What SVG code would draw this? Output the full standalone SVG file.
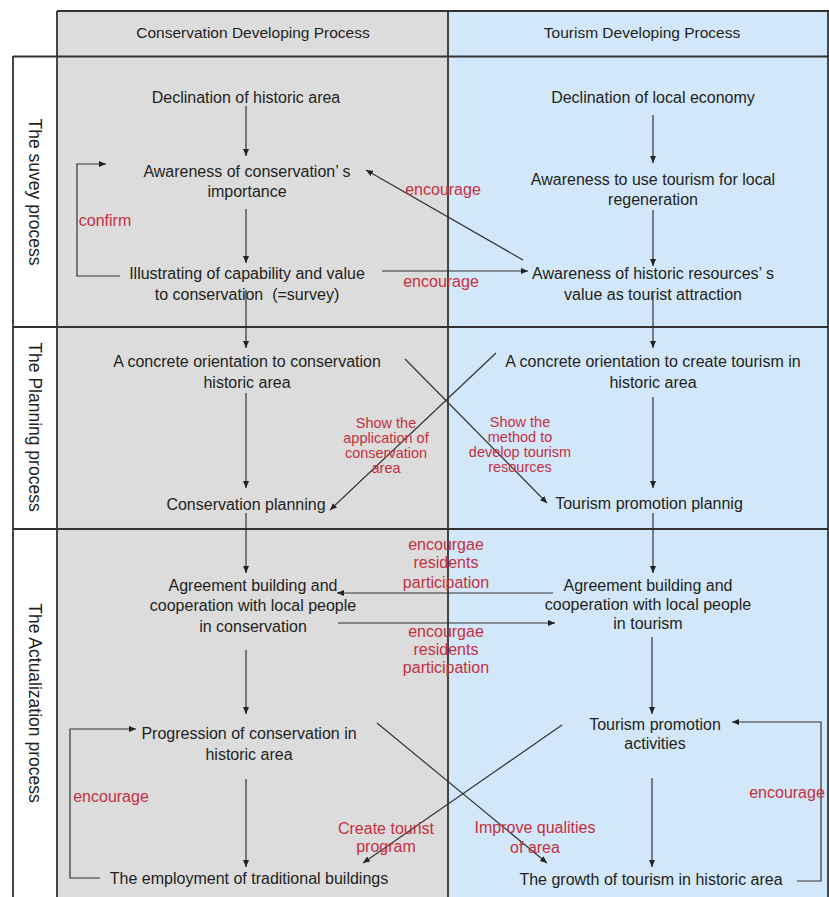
<svg xmlns="http://www.w3.org/2000/svg" width="829" height="897" viewBox="0 0 829 897">
<style>
.t{font-family:"Liberation Sans",Arial,sans-serif;font-size:16px;fill:#231f20;text-anchor:middle}
.r{font-family:"Liberation Sans",Arial,sans-serif;font-size:16px;fill:#c4303e;text-anchor:middle}
.s{font-family:"Liberation Sans",Arial,sans-serif;font-size:14.5px;fill:#c4303e;text-anchor:middle}
.h{font-family:"Liberation Sans",Arial,sans-serif;font-size:15.5px;fill:#231f20;text-anchor:middle}
.v{font-family:"Liberation Sans",Arial,sans-serif;font-size:17.5px;fill:#231f20;text-anchor:middle}
.f{stroke:#333;stroke-width:1.8;fill:none}
.c{stroke:#333;stroke-width:1.2;fill:none}
.a{marker-end:url(#ar)}
</style>
<defs>
<marker id="ar" markerWidth="8" markerHeight="6" refX="7" refY="3" orient="auto" markerUnits="userSpaceOnUse">
<path d="M0,0 L7,3 L0,6 z" fill="#222"/>
</marker>
</defs>
<rect width="829" height="897" fill="#fff"/>
<g id="frame">
<rect x="57" y="11" width="391" height="886" fill="#dcdcdc"/>
<rect x="448" y="11" width="381" height="886" fill="#d2e7f9"/>
<path class="f" d="M57,11 H829 M13,56.5 H829 M13,327 H829 M13,529 H829 M13,56 V897 M57,11 V897 M448,11 V897 M828,11 V897"/>
</g>
<g id="headers">
<text class="h" x="253" y="38">Conservation Developing Process</text>
<text class="h" x="642" y="38">Tourism Developing Process</text>
</g>
<g id="rowlabels">
<text class="v" transform="translate(35,192) rotate(90)" y="6">The suvey process</text>
<text class="v" transform="translate(35,427) rotate(90)" y="6">The Planning process</text>
<text class="v" transform="translate(35,703) rotate(90)" y="6">The Actualization process</text>
</g>
<g id="n1"><text class="t" x="246" y="103">Declination of historic area</text></g>
<g id="n2"><text class="t" x="247" y="177">Awareness of conservation’ s</text><text class="t" x="247" y="197">importance</text></g>
<g id="n3"><text class="t" x="247" y="279">Illustrating of capability and value</text><text class="t" x="247" y="300">to conservation&#160; (=survey)</text></g>
<g id="n4"><text class="t" x="247" y="367">A concrete orientation to conservation</text><text class="t" x="247" y="388">historic area</text></g>
<g id="n5"><text class="t" x="246" y="510">Conservation planning</text></g>
<g id="n6"><text class="t" x="253" y="591">Agreement building and</text><text class="t" x="253" y="611">cooperation with local people</text><text class="t" x="253" y="632">in conservation</text></g>
<g id="n7"><text class="t" x="249" y="739">Progression of conservation in</text><text class="t" x="249" y="760">historic area</text></g>
<g id="n8"><text class="t" x="249" y="884">The employment of traditional buildings</text></g>
<g id="m1"><text class="t" x="653" y="103">Declination of local economy</text></g>
<g id="m2"><text class="t" x="653" y="185">Awareness to use tourism for local</text><text class="t" x="653" y="205">regeneration</text></g>
<g id="m3"><text class="t" x="653" y="279">Awareness of historic resources’ s</text><text class="t" x="653" y="300">value as tourist attraction</text></g>
<g id="m4"><text class="t" x="653" y="367">A concrete orientation to create tourism in</text><text class="t" x="653" y="388">historic area</text></g>
<g id="m5"><text class="t" x="649" y="509">Tourism promotion plannig</text></g>
<g id="m6"><text class="t" x="648" y="591">Agreement building and</text><text class="t" x="648" y="610">cooperation with local people</text><text class="t" x="648" y="629">in tourism</text></g>
<g id="m7"><text class="t" x="655" y="730">Tourism promotion</text><text class="t" x="655" y="749">activities</text></g>
<g id="m8"><text class="t" x="651" y="885">The growth of tourism in historic area</text></g>
<g id="connectors">
<path class="c a" d="M246,106 V156"/>
<path class="c a" d="M246,209 V263"/>
<path class="c a" d="M246,290 V348"/>
<path class="c a" d="M246,393 V488"/>
<path class="c a" d="M246,513 V573"/>
<path class="c a" d="M246,650 V714"/>
<path class="c a" d="M246,779 V867"/>
<path class="c a" d="M653,115 V163"/>
<path class="c a" d="M653,210 V266"/>
<path class="c a" d="M653,295 V348"/>
<path class="c a" d="M653,397 V488"/>
<path class="c a" d="M653,513 V573"/>
<path class="c a" d="M652,637 V714"/>
<path class="c a" d="M652,778 V867"/>
<path class="c a" d="M120,276 H77 V164 H106"/>
<path class="c a" d="M523,260 L366,170"/>
<path class="c a" d="M382,271 H528"/>
<path class="c a" d="M405,359 L547,503"/>
<path class="c a" d="M496,353 L330,510"/>
<path class="c a" d="M553,593 H337"/>
<path class="c a" d="M338,623 H555"/>
<path class="c a" d="M377,723 L547,863"/>
<path class="c a" d="M562,725 L363,863"/>
<path class="c a" d="M100,878 H70 V729 H136"/>
<path class="c a" d="M797,881 H821 V722 H732"/>
</g>
<g id="labels">
<text class="r" x="105" y="226">confirm</text>
<text class="r" x="443" y="195">encourage</text>
<text class="r" x="441" y="287">encourage</text>
<text class="s" x="386" y="428">Show the</text>
<text class="s" x="386" y="443">application of</text>
<text class="s" x="386" y="458">conservation</text>
<text class="s" x="386" y="473">area</text>
<text class="s" x="520" y="427">Show the</text>
<text class="s" x="520" y="442">method to</text>
<text class="s" x="520" y="457">develop tourism</text>
<text class="s" x="520" y="472">resources</text>
<text class="r" x="446" y="550">encourgae</text>
<text class="r" x="446" y="568">residents</text>
<text class="r" x="446" y="588">participation</text>
<text class="r" x="446" y="637">encourgae</text>
<text class="r" x="446" y="655">residents</text>
<text class="r" x="446" y="673">participation</text>
<text class="r" x="111" y="802">encourage</text>
<text class="r" x="787" y="798">encourage</text>
<text class="r" x="386" y="834">Create tourist</text>
<text class="r" x="386" y="852">program</text>
<text class="r" x="535" y="833">Improve qualities</text>
<text class="r" x="535" y="853">of area</text>
</g>
</svg>
